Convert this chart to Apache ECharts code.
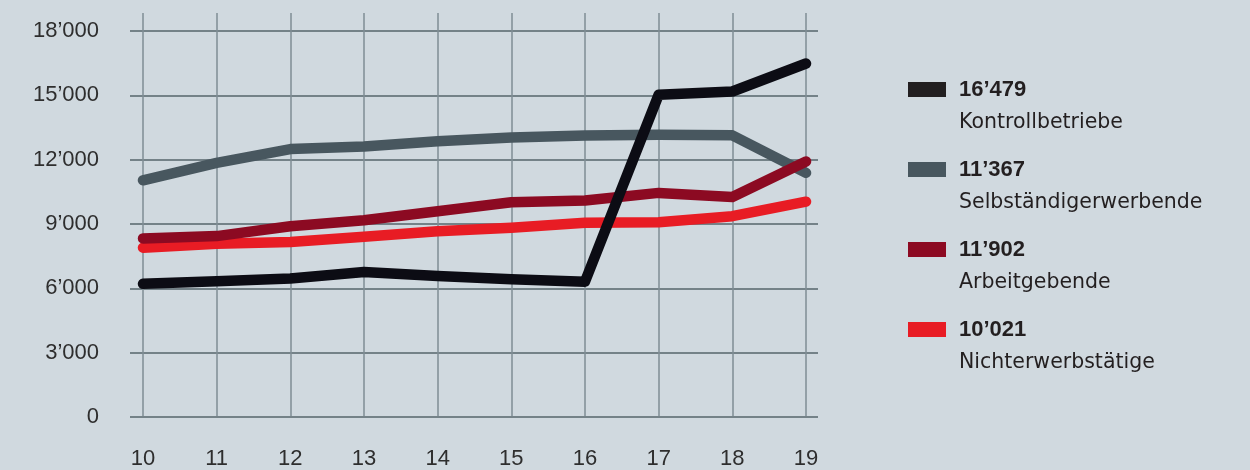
<!DOCTYPE html>
<html>
<head>
<meta charset="utf-8">
<script src="https://cdn.jsdelivr.net/npm/echarts@6/dist/echarts.min.js"></script>
<style>
  html, body { margin: 0; padding: 0; background: #d0d9df; }
  #chart { width: 1250px; height: 470px; }
</style>
</head>
<body>
<div id="chart"></div>
<script>
// Years (20xx) on the horizontal axis
const years = ['10', '11', '12', '13', '14', '15', '16', '17', '18', '19'];

// Number of records per group
const kontrollbetriebe = [6180, 6300, 6430, 6730, 6540, 6390, 6280, 15020, 15170, 16479];
const selbstaendigerwerbende = [11020, 11830, 12480, 12600, 12840, 13020, 13110, 13150, 13120, 11367];
const arbeitgebende = [8300, 8410, 8870, 9150, 9570, 9990, 10070, 10430, 10240, 11902];
const nichterwerbstaetige = [7870, 8050, 8130, 8380, 8640, 8800, 9030, 9060, 9340, 10021];

const seriesNames = ['Kontrollbetriebe', 'Selbständigerwerbende', 'Arbeitgebende', 'Nichterwerbstätige'];
const seriesColors = ['#0c0c14', '#48575f', '#8c0a22', '#e81c24'];
const seriesData = [kontrollbetriebe, selbstaendigerwerbende, arbeitgebende, nichterwerbstaetige];
// drawing order: later entries sit on top
const drawOrder = [1, 3, 2, 0];

const yTicks = [0, 3000, 6000, 9000, 12000, 15000, 18000];

function swissFormat(v) {
  return String(Math.round(v)).replace(/\B(?=(\d{3})+(?!\d))/g, '\u2019');
}

const chart = echarts.init(document.getElementById('chart'), null, { renderer: 'canvas' });

const legendGraphics = [];
seriesNames.forEach(function (name, i) {
  const data = seriesData[i];
  const top = 82 + 80 * i;
  legendGraphics.push({
    type: 'rect',
    shape: { x: 908, y: top, width: 38, height: 15 },
    style: { fill: i === 0 ? '#221f20' : seriesColors[i] }
  });
  legendGraphics.push({
    type: 'text',
    x: 959, y: top + 7.5,
    style: {
      text: swissFormat(data[data.length - 1]),
      font: 'bold 22px "Liberation Sans", Arial, sans-serif',
      fill: '#231f20',
      verticalAlign: 'middle', align: 'left'
    }
  });
  legendGraphics.push({
    type: 'text',
    x: 959, y: top + 41,
    style: {
      text: name,
      font: '20.5px "DejaVu Sans", sans-serif',
      fill: '#231f20',
      verticalAlign: 'middle', align: 'left'
    }
  });
});

const yMaxPlot = 18000 * 404 / 386;

chart.setOption({
  backgroundColor: '#d0d9df',
  animation: false,
  grid: [
    { left: 130, right: 432, top: 31, bottom: 53 },
    { left: 143, right: 444, top: 13, bottom: 53 }
  ],
  xAxis: [
    { gridIndex: 0, type: 'value', min: 0, max: 1, show: false },
    {
      gridIndex: 1, type: 'category', data: years, boundaryGap: false,
      axisLine: { show: false }, axisTick: { show: false },
      axisLabel: {
        margin: 32, color: '#2e2e2e', fontSize: 22,
        fontFamily: '"Liberation Sans", Arial, sans-serif'
      },
      splitLine: { show: true, lineStyle: { color: '#7f8d94', width: 1.5 } }
    }
  ],
  yAxis: [
    {
      gridIndex: 0, type: 'value', min: yTicks[0], max: yTicks[yTicks.length - 1], interval: 3000,
      axisLine: { show: false }, axisTick: { show: false },
      axisLabel: {
        margin: 31, color: '#2e2e2e', fontSize: 22,
        fontFamily: '"Liberation Sans", Arial, sans-serif',
        formatter: function (v) { return swissFormat(v); }
      },
      splitLine: { show: true, lineStyle: { color: '#56646b', width: 1.5 } }
    },
    { gridIndex: 1, type: 'value', min: 0, max: yMaxPlot, show: false, splitLine: { show: false } }
  ],
  graphic: legendGraphics,
  series: drawOrder.map(function (i) {
    return {
      name: seriesNames[i],
      type: 'line',
      xAxisIndex: 1, yAxisIndex: 1,
      data: seriesData[i],
      symbol: 'none',
      clip: false,
      lineStyle: { color: seriesColors[i], width: 10.5, cap: 'round', join: 'round' }
    };
  })
});
</script>
</body>
</html>
